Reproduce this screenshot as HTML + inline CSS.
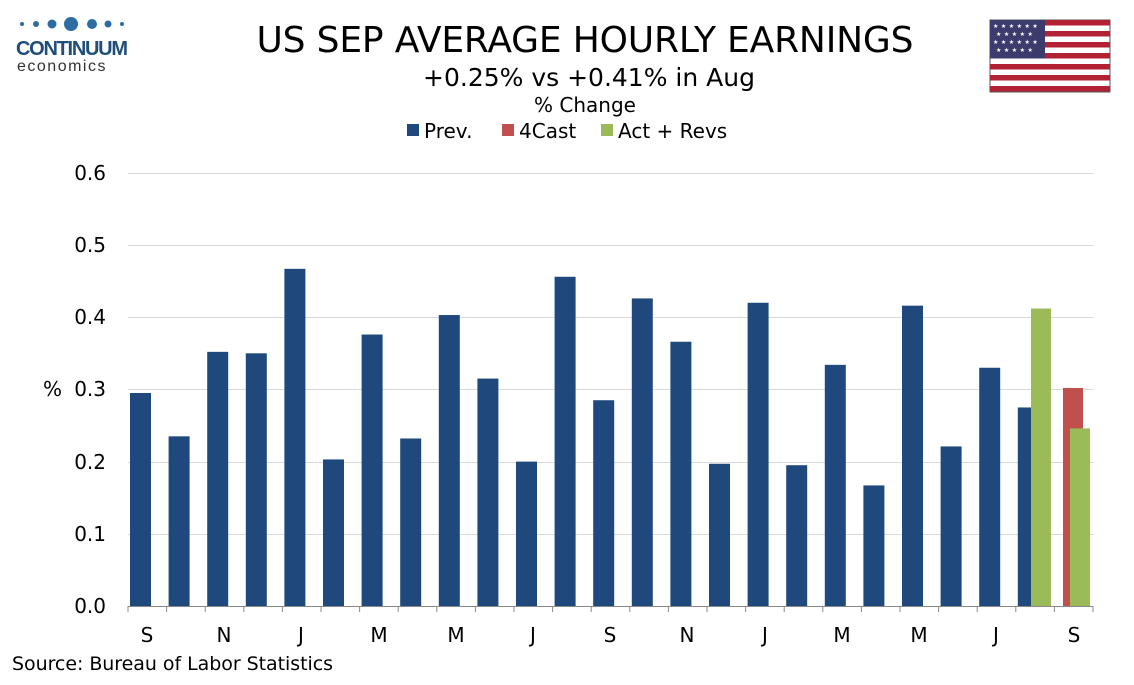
<!DOCTYPE html>
<html><head><style>
body{margin:0;width:1134px;height:680px;background:#fff;overflow:hidden;font-family:"Liberation Sans","DejaVu Sans",sans-serif}
</style></head><body>
<svg width="1134" height="680" viewBox="0 0 1134 680" xmlns="http://www.w3.org/2000/svg" font-family="'DejaVu Sans','Liberation Sans',sans-serif">
<g fill="#2e6da4">
<circle cx="22" cy="24" r="2"/><circle cx="36" cy="24" r="3"/><circle cx="52" cy="24" r="4.5"/><circle cx="71" cy="24" r="7"/><circle cx="92" cy="24" r="5"/><circle cx="108" cy="24" r="3.5"/><circle cx="122" cy="24" r="2"/>
</g>
<text x="16" y="55" font-size="20" fill="#1f4e79" font-weight="bold" font-family="'Liberation Sans',sans-serif" textLength="112">CONTINUUM</text>
<text x="17" y="71" font-size="16" fill="#333" letter-spacing="1.5" font-family="'Liberation Sans',sans-serif">economics</text>
<text x="585" y="52" font-size="36" text-anchor="middle" fill="#000" textLength="657">US SEP AVERAGE HOURLY EARNINGS</text>
<text x="589" y="86" font-size="25" text-anchor="middle" fill="#000">+0.25% vs +0.41% in Aug</text>
<text x="585" y="112" font-size="20" text-anchor="middle" fill="#000">% Change</text>
<rect x="407" y="124" width="12" height="12" fill="#1f497d"/><text x="424" y="138" font-size="20">Prev.</text>
<rect x="502" y="124" width="12" height="12" fill="#c0504d"/><text x="519" y="138" font-size="20">4Cast</text>
<rect x="601" y="124" width="12" height="12" fill="#9bbb59"/><text x="618" y="138" font-size="20">Act + Revs</text>
<g transform="translate(990,20)">
<rect width="120" height="72" fill="#fff" stroke="#555"/>
<g fill="#b22234">
<rect y="0" width="120" height="5.5"/><rect y="11" width="120" height="5.5"/><rect y="22" width="120" height="5.5"/><rect y="33" width="120" height="5.5"/><rect y="44" width="120" height="5.5"/><rect y="55" width="120" height="5.5"/><rect y="66" width="120" height="5.5"/>
</g>
<rect width="55" height="38.5" fill="#3c3b6e"/>
<g fill="#fff" font-size="6"><text x="3" y="8" letter-spacing="2.5">★★★★★★</text><text x="6" y="16" letter-spacing="2.5">★★★★★</text><text x="3" y="24" letter-spacing="2.5">★★★★★★</text><text x="6" y="32" letter-spacing="2.5">★★★★★</text></g>
</g>
<g stroke="#d9d9d9" stroke-width="1">
<line x1="128" x2="1093" y1="173.5" y2="173.5"/><line x1="128" x2="1093" y1="245.5" y2="245.5"/><line x1="128" x2="1093" y1="317.5" y2="317.5"/><line x1="128" x2="1093" y1="389.5" y2="389.5"/><line x1="128" x2="1093" y1="462.5" y2="462.5"/><line x1="128" x2="1093" y1="534.5" y2="534.5"/>
</g>
<g font-size="20" text-anchor="end" fill="#000">
<text x="106" y="180">0.6</text><text x="106" y="252">0.5</text><text x="106" y="324">0.4</text><text x="106" y="396">0.3</text><text x="106" y="469">0.2</text><text x="106" y="541">0.1</text><text x="106" y="613">0.0</text>
</g>
<text x="43" y="396" font-size="20">%</text>
<g id="bars" fill="#1f497d"></g>
<g id="ticks" stroke="#888"></g>
<line x1="128" x2="1093" y1="606.5" y2="606.5" stroke="#888"/>
<g font-size="20" text-anchor="middle">
<text x="147" y="642">S</text><text x="224" y="642">N</text><text x="301" y="642">J</text><text x="379" y="642">M</text><text x="456" y="642">M</text><text x="533" y="642">J</text><text x="610" y="642">S</text><text x="687" y="642">N</text><text x="765" y="642">J</text><text x="842" y="642">M</text><text x="919" y="642">M</text><text x="996" y="642">J</text><text x="1074" y="642">S</text>
</g>
<text x="12" y="670" font-size="19" textLength="321">Source: Bureau of Labor Statistics</text>
</svg>
<script>
var v=[0.295,0.235,0.352,0.350,0.467,0.203,0.376,0.232,0.403,0.315,0.200,0.456,0.285,0.426,0.366,0.197,0.420,0.195,0.334,0.167,0.416,0.221,0.330,0.275];
var ns="http://www.w3.org/2000/svg",g=document.getElementById("bars"),t=document.getElementById("ticks");
function r(x,val,c,w){var e=document.createElementNS(ns,"rect");var h=val*722;e.setAttribute("x",x);e.setAttribute("y",606-h);e.setAttribute("width",w);e.setAttribute("height",h);e.setAttribute("fill",c);g.appendChild(e);}
v.forEach(function(val,i){r(130+38.6*i,val,"#1f497d",21);});
r(1031,0.412,"#9bbb59",20);r(1063,0.302,"#c0504d",20);r(1070,0.246,"#9bbb59",20);
for(var i=0;i<=25;i++){var l=document.createElementNS(ns,"line");var x=128+38.6*i;l.setAttribute("x1",x);l.setAttribute("x2",x);l.setAttribute("y1",606);l.setAttribute("y2",612);t.appendChild(l);}
</script>
</body></html>
